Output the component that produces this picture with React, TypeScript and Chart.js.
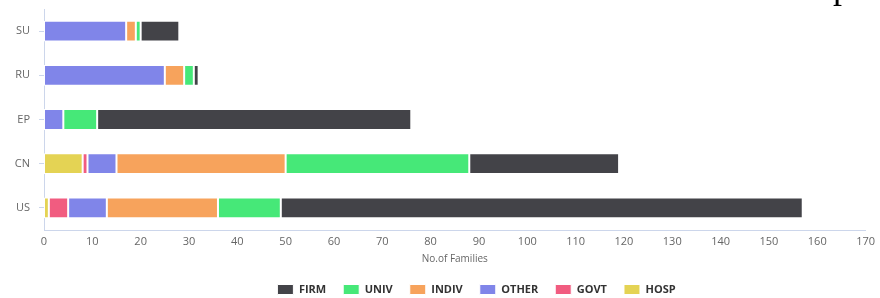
import React, { useEffect, useRef } from "react";
import { Chart, registerables } from "chart.js";

Chart.register(...registerables);

const categories = ["SU", "RU", "EP", "CN", "US"];
const hosp = [0, 0, 0, 8, 1];
const govt = [0, 0, 0, 1, 4];
const other = [17, 25, 4, 6, 8];
const indiv = [2, 4, 0, 35, 23];
const univ = [1, 2, 7, 38, 13];
const firm = [8, 1, 65, 31, 108];
const xTicks = [0, 170, 10];

const FONT = "'Open Sans', 'DejaVu Sans', sans-serif";

const legendShift = {
  id: "legendShift",
  afterLayout(chart: any) {
    const lg = chart.legend;
    if (lg) {
      lg.left += 41;
      lg.right += 41;
    }
  },
};

export default function App() {
  const ref = useRef<HTMLCanvasElement | null>(null);
  useEffect(() => {
    if (!ref.current) return;
    const mk = (label: string, data: number[], color: string) => ({
      label,
      data,
      backgroundColor: color,
      borderColor: "#ffffff",
      borderWidth: 1,
      borderSkipped: false,
      categoryPercentage: 1,
      barPercentage: 0.47,
    });
    const chart = new Chart(ref.current, {
      type: "bar",
      data: {
        labels: categories,
        datasets: [
          mk("HOSP", hosp, "#e4d354"),
          mk("GOVT", govt, "#f15c80"),
          mk("OTHER", other, "#8085e9"),
          mk("INDIV", indiv, "#f7a35c"),
          mk("UNIV", univ, "#46e878"),
          mk("FIRM", firm, "#434348"),
        ],
      },
      plugins: [legendShift],
      options: {
        indexAxis: "y",
        responsive: false,
        animation: false,
        layout: { padding: { left: 0, right: 9, top: 9, bottom: -7 } },
        plugins: {
          tooltip: { enabled: false },
          legend: {
            position: "bottom",
            reverse: true,
            labels: {
              boxWidth: 16,
              boxHeight: 10,
              padding: 17,
              color: "#333333",
              font: { family: FONT, size: 11, weight: "bold" },
            },
          },
        },
        scales: {
          x: {
            stacked: true,
            min: xTicks[0],
            max: xTicks[1],
            afterFit: (s: any) => {
              s.height = 37;
            },
            ticks: {
              stepSize: xTicks[2],
              color: "#666666",
              padding: 5,
              maxRotation: 0,
              font: { family: FONT, size: 11 },
            },
            grid: { display: false, drawTicks: false },
            border: { display: true, color: "#ccd6eb", width: 1 },
            title: {
              display: true,
              text: "No.of Families",
              color: "#666666",
              padding: { top: 2, bottom: 2 },
              font: { family: FONT, size: 10 },
            },
          },
          y: {
            stacked: true,
            afterFit: (s: any) => {
              s.width = 44;
              s.paddingTop = 0;
              s.paddingBottom = 0;
            },
            ticks: {
              color: "#666666",
              padding: 9,
              font: { family: FONT, size: 11 },
            },
            grid: {
              offset: false,
              drawOnChartArea: false,
              drawTicks: true,
              tickLength: 5,
              color: "#ccd6eb",
            },
            border: { display: true, color: "#ccd6eb", width: 1 },
          },
        },
      },
    });
    return () => chart.destroy();
  }, []);
  return (
    <div style={{ position: "absolute", left: 0, top: 0, width: 880, height: 298 }}>
      <canvas ref={ref} width={880} height={298} style={{ display: "block" }} />
      <div
        style={{
          position: "absolute",
          left: 833,
          top: -32,
          fontFamily: "'Liberation Serif', serif",
          fontSize: 36,
          lineHeight: "36px",
          color: "#000",
        }}
      >
        p
      </div>
    </div>
  );
}
